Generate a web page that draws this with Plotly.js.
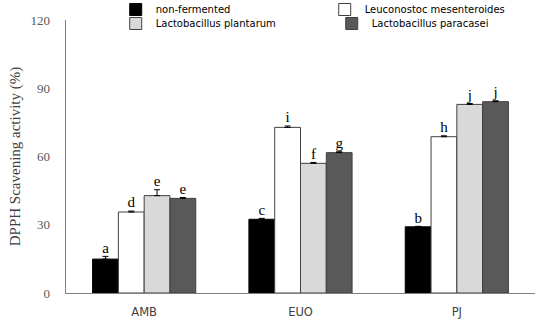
<!DOCTYPE html>
<html>
<head>
<meta charset="utf-8">
<script src="https://cdn.plot.ly/plotly-3.0.1.min.js"></script>
<style>html,body{margin:0;padding:0;background:#fff;}#chart{width:538px;height:320px;}</style>
</head>
<body>
<div id="chart"></div>
<script>
var categories = ['AMB', 'EUO', 'PJ'];
var seriesNames = ['non-fermented', 'Leuconostoc mesenteroides', 'Lactobacillus plantarum', 'Lactobacillus paracasei'];
var nonFermented = [14.9, 32.4, 29.1];
var nonFermentedErr = [1.2, 0.4, 0.2];
var leuconostoc = [35.6, 72.8, 68.7];
var leuconostocErr = [0.4, 0.6, 0.4];
var plantarum = [42.8, 57.0, 82.9];
var plantarumErr = [2.6, 0.4, 0.4];
var paracasei = [41.6, 61.7, 84.1];
var paracaseiErr = [0.4, 0.4, 0.4];
var noLowerErr = [0, 0, 0];
var nonFermentedLetters = ['a', 'c', 'b'];
var leuconostocLetters = ['d', 'i', 'h'];
var plantarumLetters = ['e', 'f', 'j'];
var paracaseiLetters = ['e', 'g', 'j'];
var yTicks = [0, 30, 60, 90, 120];

var values = [nonFermented, leuconostoc, plantarum, paracasei];
var errs = [nonFermentedErr, leuconostocErr, plantarumErr, paracaseiErr];
var letters = [nonFermentedLetters, leuconostocLetters, plantarumLetters, paracaseiLetters];
var fills = ['#000000', '#ffffff', '#d9d9d9', '#595959'];
var outlines = ['#000000', '#404040', '#404040', '#404040'];
var legendIds = ['legend', 'legend', 'legend2', 'legend2'];

var traces = [];
for (var i = 0; i < 4; i++) {
  traces.push({
    type: 'bar', name: seriesNames[i], x: categories, y: values[i],
    offsetgroup: String(i), legend: legendIds[i],
    marker: {color: fills[i], line: {color: outlines[i], width: 1}},
    error_y: {type: 'data', symmetric: false, array: errs[i], arrayminus: noLowerErr, visible: true, color: '#000', thickness: 1, width: 3},
    hoverinfo: 'skip'
  });
}
for (var j = 0; j < 4; j++) {
  traces.push({
    type: 'scatter', mode: 'text', x: categories,
    y: values[j].map(function (v, k) { return v + errs[j][k]; }),
    text: letters[j], textposition: 'top center',
    textfont: {family: 'Liberation Serif, serif', size: 15, color: '#000'},
    offsetgroup: String(j), showlegend: false, hoverinfo: 'skip', cliponaxis: false
  });
}

var legendFont = {family: 'DejaVu Sans, Verdana, sans-serif', size: 10, color: '#000'};
var layout = {
  width: 538, height: 320,
  margin: {l: 66, r: 3, t: 20, b: 27, autoexpand: false},
  paper_bgcolor: '#fff', plot_bgcolor: '#fff',
  barmode: 'group', bargap: 0.34, bargroupgap: 0,
  scattermode: 'group', scattergap: 0.34,
  showlegend: true,
  legend: {
    orientation: 'h', xref: 'paper', yref: 'paper', x: 0.106, y: 1.0916, xanchor: 'left', yanchor: 'top',
    entrywidth: 164, entrywidthmode: 'pixels', font: legendFont,
    bgcolor: 'rgba(0,0,0,0)', borderwidth: 0
  },
  legend2: {
    orientation: 'h', xref: 'paper', yref: 'paper', x: 0.106, y: 1.0403, xanchor: 'left', yanchor: 'top',
    entrywidth: 171, entrywidthmode: 'pixels', font: legendFont,
    bgcolor: 'rgba(0,0,0,0)', borderwidth: 0
  },
  xaxis: {
    type: 'category', showline: true, linecolor: '#808080', linewidth: 1.3,
    ticks: '', showgrid: false, zeroline: false,
    tickfont: {family: 'DejaVu Sans, Verdana, sans-serif', size: 11.5, color: '#404040'},
    ticklabelstandoff: 8
  },
  yaxis: {
    range: [0, 120], tickvals: yTicks, ticktext: yTicks.map(String),
    showline: true, linecolor: '#808080', linewidth: 1.3,
    ticks: '', showgrid: false, zeroline: false,
    tickfont: {family: 'Liberation Serif, Times New Roman, serif', size: 13, color: '#595959'},
    ticklabelstandoff: 12,
    title: {text: 'DPPH Scavening activity (%)', font: {family: 'Liberation Serif, Times New Roman, serif', size: 15, color: '#404040'}, standoff: 6}
  }
};

Plotly.newPlot('chart', traces, layout, {displayModeBar: false, staticPlot: true});
</script>
</body>
</html>
